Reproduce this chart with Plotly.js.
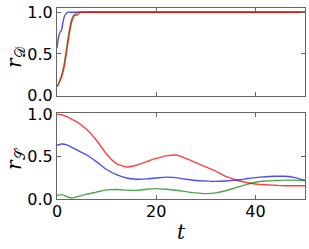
<!DOCTYPE html>
<html><head><meta charset="utf-8">
<script src="https://cdn.plot.ly/plotly-3.0.1.min.js"></script>
<style>html,body{margin:0;padding:0;background:#fff}#c{width:309px;height:249px}</style>
</head><body><div id="c"></div>
<script>
// top panel: r_D
const tTop = [0,0.3,0.6,0.9,1.2,1.5,1.8,2.2,2.6,3,3.5,4,4.5,5,6,10,20,30,40,50];
const blueD = [0.57,0.70,0.76,0.78,0.88,0.95,0.98,1.0,1.0,1.0,1.0,1.0,1.0,1.0,1.0,1.0,1.0,1.0,1.0,1.0];
const greenD = [0.11,0.14,0.19,0.24,0.31,0.40,0.52,0.68,0.82,0.92,0.97,0.96,0.99,1.0,1.0,1.0,1.0,1.0,1.0,1.0];
const redD = [0.11,0.14,0.18,0.22,0.28,0.36,0.47,0.63,0.78,0.89,0.96,0.99,1.0,1.0,1.0,1.0,1.0,1.0,1.0,1.0];
// bottom panel: r_S
const tBot = [0,1,2,3,4,6,8,10,12,14,16,18,20,22,24,26,28,30,32,34,36,38,40,42,44,46,48,50];
const redS = [1.0,0.99,0.97,0.94,0.91,0.82,0.69,0.53,0.42,0.38,0.40,0.44,0.48,0.51,0.52,0.48,0.43,0.38,0.33,0.27,0.23,0.20,0.18,0.17,0.165,0.16,0.16,0.16];
const blueS = [0.635,0.65,0.64,0.61,0.58,0.52,0.44,0.35,0.29,0.25,0.235,0.24,0.25,0.26,0.255,0.235,0.22,0.215,0.21,0.215,0.225,0.24,0.255,0.265,0.27,0.27,0.255,0.22];
const greenS = [0.045,0.055,0.03,0.015,0.03,0.06,0.085,0.11,0.115,0.108,0.105,0.118,0.125,0.118,0.106,0.09,0.075,0.067,0.075,0.1,0.135,0.17,0.2,0.215,0.22,0.225,0.225,0.22];
const yTicks = [0,0.5,1.0];
const xTicks = [0,20,40];

const cR='rgba(255,0,0,0.75)', cB='rgba(0,0,255,0.7)', cG='rgba(0,128,0,0.7)';
const ln = c => ({color:c,width:1.4,shape:'spline',smoothing:0.6});
const traces = [
  {x:tTop,y:blueD,xaxis:'x',yaxis:'y',mode:'lines',line:ln(cB)},
  {x:tTop,y:greenD,xaxis:'x',yaxis:'y',mode:'lines',line:ln(cG)},
  {x:tTop,y:redD,xaxis:'x',yaxis:'y',mode:'lines',line:ln(cR)},
  {x:tBot,y:redS,xaxis:'x2',yaxis:'y2',mode:'lines',line:ln(cR)},
  {x:tBot,y:blueS,xaxis:'x2',yaxis:'y2',mode:'lines',line:ln(cB)},
  {x:tBot,y:greenS,xaxis:'x2',yaxis:'y2',mode:'lines',line:ln(cG)}
];
const fnt = {family:'DejaVu Sans',size:16,color:'#000'};
const ax = {showline:true,mirror:'ticks',linecolor:'#666',linewidth:1,ticks:'inside',ticklen:4,tickcolor:'#666',showgrid:false,zeroline:false,tickfont:fnt,fixedrange:true};
const dx=[57/309,305/309];
const tf = {family:'DejaVu Serif',size:20,color:'#000'};
const layout = {
  width:309,height:249,margin:{l:0,r:0,t:0,b:0},showlegend:false,
  paper_bgcolor:'#fff',plot_bgcolor:'#fff',
  xaxis:Object.assign({},ax,{domain:dx,range:[0,50],tickvals:xTicks,showticklabels:false,anchor:'y'}),
  yaxis:Object.assign({},ax,{domain:[(249-95.7)/249,(249-8)/249],range:[0,1.05],tickvals:yTicks,tickformat:'.1f',anchor:'x'}),
  xaxis2:Object.assign({},ax,{domain:dx,range:[0,50],tickvals:xTicks,anchor:'y2',ticklabelstandoff:-3}),
  yaxis2:Object.assign({},ax,{domain:[(249-199.3)/249,(249-113.3)/249],range:[0,1.01],tickvals:yTicks,tickformat:'.1f',anchor:'x2'}),
  annotations:[
    {xref:'paper',yref:'paper',x:15/309,y:(249-57)/249,xanchor:'center',yanchor:'middle',text:'<i>r</i><sub>𝒟</sub>',showarrow:false,textangle:-90,font:tf},
    {xref:'paper',yref:'paper',x:15/309,y:(249-159)/249,xanchor:'center',yanchor:'middle',text:'<i>r</i><sub>𝒮</sub>',showarrow:false,textangle:-90,font:tf},
    {xref:'paper',yref:'paper',x:181/309,y:(249-232)/249,xanchor:'center',yanchor:'middle',text:'<i>t</i>',showarrow:false,font:tf}
  ]
};
Plotly.newPlot('c',traces,layout,{staticPlot:true,displayModeBar:false});
</script></body></html>
